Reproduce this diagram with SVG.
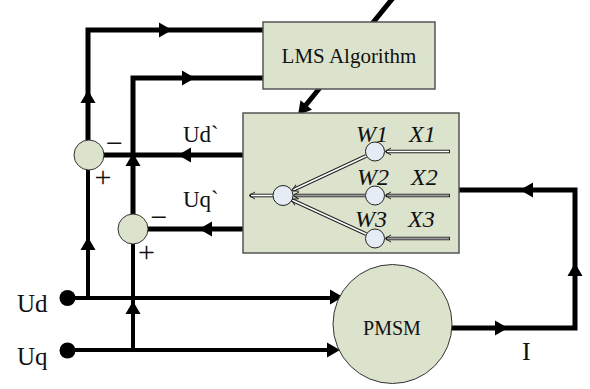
<svg xmlns="http://www.w3.org/2000/svg" width="590" height="389" viewBox="0 0 590 389">
<style>
.w{stroke:#000;stroke-width:5;fill:none}
.t{stroke:#000;stroke-width:4;fill:none}
.box{fill:#dce3cd;stroke:#555;stroke-width:1.5}
.sum{fill:#dce3cd;stroke:#333;stroke-width:1}
.nc{fill:#e6ecf6;stroke:#222;stroke-width:1}
.ho{stroke:#222;stroke-width:3.6;fill:none}
.hi{stroke:#fff;stroke-width:1.6;fill:none}
.gi{stroke:#999;stroke-width:1.8;fill:none}
.sa{stroke:#222;stroke-width:1;fill:none}
text{font-family:"Liberation Serif","Times New Roman",serif;fill:#111}
.it{font-style:italic;font-size:24px}
.lb{font-size:25px}
.lp{font-size:23px}
.sg{font-size:30px;text-anchor:middle}
</style>
<defs>
<path id="ah" d="M0,0 L-13,-7.5 L-13,7.5 Z" fill="#000"/>
<path id="sa" d="M-6,-3.5 L0,0 L-6,3.5" class="sa"/>
</defs>

<g id="connectors">
  <line class="w" x1="393" y1="-2" x2="301" y2="111"/>
  <use href="#ah" transform="translate(298,115) rotate(129.6)"/>
  <polyline class="w" points="88,140 88,30 263,30"/>
  <use href="#ah" transform="translate(172,30)"/>
  <use href="#ah" transform="translate(88,90) rotate(-90)"/>
  <polyline class="w" points="133,214 133,78 263,78"/>
  <use href="#ah" transform="translate(195,78)"/>
  <use href="#ah" transform="translate(133,153) rotate(-90)"/>
  <line class="w" x1="243" y1="155" x2="104" y2="155"/>
  <use href="#ah" transform="translate(178,155) rotate(180)"/>
  <line class="w" x1="243" y1="229" x2="148" y2="229"/>
  <use href="#ah" transform="translate(199,229) rotate(180)"/>
  <line class="t" x1="88" y1="298" x2="88" y2="170"/>
  <use href="#ah" transform="translate(88,237) rotate(-90)"/>
  <line class="t" x1="133" y1="350" x2="133" y2="244"/>
  <use href="#ah" transform="translate(133,301) rotate(-90)"/>
  <line class="t" x1="68" y1="298" x2="335" y2="298"/>
  <use href="#ah" transform="translate(343,297)"/>
  <line class="t" x1="68" y1="350" x2="332" y2="350"/>
  <use href="#ah" transform="translate(340,350)"/>
  <polyline class="w" points="452,328 575,328 575,190 459,190"/>
  <use href="#ah" transform="translate(508,328)"/>
  <use href="#ah" transform="translate(575,263) rotate(-90)"/>
  <use href="#ah" transform="translate(520,190) rotate(180)"/>
</g>

<g id="lms">
  <rect class="box" x="263" y="22" width="172" height="67"/>
  <text x="349" y="63" font-size="21" text-anchor="middle">LMS Algorithm</text>
</g>

<g id="filter">
  <rect class="box" x="243" y="113" width="216" height="140"/>
  <g id="filter-links">
    <line class="ho" x1="450" y1="151.5" x2="386" y2="151.5"/>
    <line class="hi" x1="449" y1="151.5" x2="387" y2="151.5"/>
    <use href="#sa" transform="translate(385,151.5) rotate(180)"/>
    <line class="ho" x1="450" y1="195.5" x2="386" y2="195.5"/>
    <line class="gi" x1="449" y1="195.5" x2="387" y2="195.5"/>
    <use href="#sa" transform="translate(385,195.5) rotate(180)"/>
    <line class="ho" x1="450" y1="238.5" x2="386" y2="238.5"/>
    <line class="gi" x1="449" y1="238.5" x2="387" y2="238.5"/>
    <use href="#sa" transform="translate(385,238.5) rotate(180)"/>
    <line class="ho" x1="366" y1="156" x2="293" y2="190"/>
    <line class="hi" x1="366" y1="156" x2="293" y2="190"/>
    <use href="#sa" transform="translate(292,190.5) rotate(155)"/>
    <line class="ho" x1="365" y1="195.5" x2="294" y2="195.5"/>
    <line class="gi" x1="365" y1="195.5" x2="294" y2="195.5"/>
    <use href="#sa" transform="translate(293,195.5) rotate(180)"/>
    <line class="ho" x1="366" y1="234" x2="292" y2="200"/>
    <line class="hi" x1="366" y1="234" x2="292" y2="200"/>
    <use href="#sa" transform="translate(291,199.5) rotate(-155)"/>
    <line class="ho" x1="273" y1="195.5" x2="250" y2="195.5"/>
    <line class="hi" x1="273" y1="195.5" x2="251" y2="195.5"/>
    <use href="#sa" transform="translate(249,195.5) rotate(180)"/>
  </g>
  <circle id="w1" class="nc" cx="375" cy="151.5" r="9.5"/>
  <circle id="w2" class="nc" cx="375" cy="195.5" r="9.5"/>
  <circle id="w3" class="nc" cx="375" cy="238.5" r="9.5"/>
  <circle id="fsum" class="nc" cx="283" cy="195.5" r="10"/>
  <text class="it" x="356" y="141.5">W1</text>
  <text class="it" x="409" y="141.5">X1</text>
  <text class="it" x="357" y="185">W2</text>
  <text class="it" x="411" y="185">X2</text>
  <text class="it" x="355" y="227">W3</text>
  <text class="it" x="408" y="227">X3</text>
</g>

<g id="sum1">
  <circle class="sum" cx="89" cy="155" r="15"/>
  <text class="sg" x="114.5" y="152.5">−</text>
  <text class="sg" x="103" y="187">+</text>
</g>

<g id="sum2">
  <circle class="sum" cx="133" cy="229" r="15"/>
  <text class="sg" x="159" y="227">−</text>
  <text class="sg" x="146.5" y="261.5">+</text>
</g>

<g id="ud-label">
  <text class="lp" x="183" y="142">Ud`</text>
</g>
<g id="uq-label">
  <text class="lp" x="183" y="207">Uq`</text>
</g>

<g id="ud">
  <circle cx="67.5" cy="298" r="8" fill="#000"/>
  <text class="lb" x="17" y="311.5">Ud</text>
</g>
<g id="uq">
  <circle cx="67.5" cy="350.5" r="8" fill="#000"/>
  <text class="lb" x="17" y="365">Uq</text>
</g>

<g id="pmsm">
  <circle class="sum" cx="392.5" cy="324" r="59.5"/>
  <text x="392" y="335" font-size="20" text-anchor="middle">PMSM</text>
</g>

<g id="i-label">
  <text x="522" y="359.5" font-size="26">I</text>
</g>
</svg>
